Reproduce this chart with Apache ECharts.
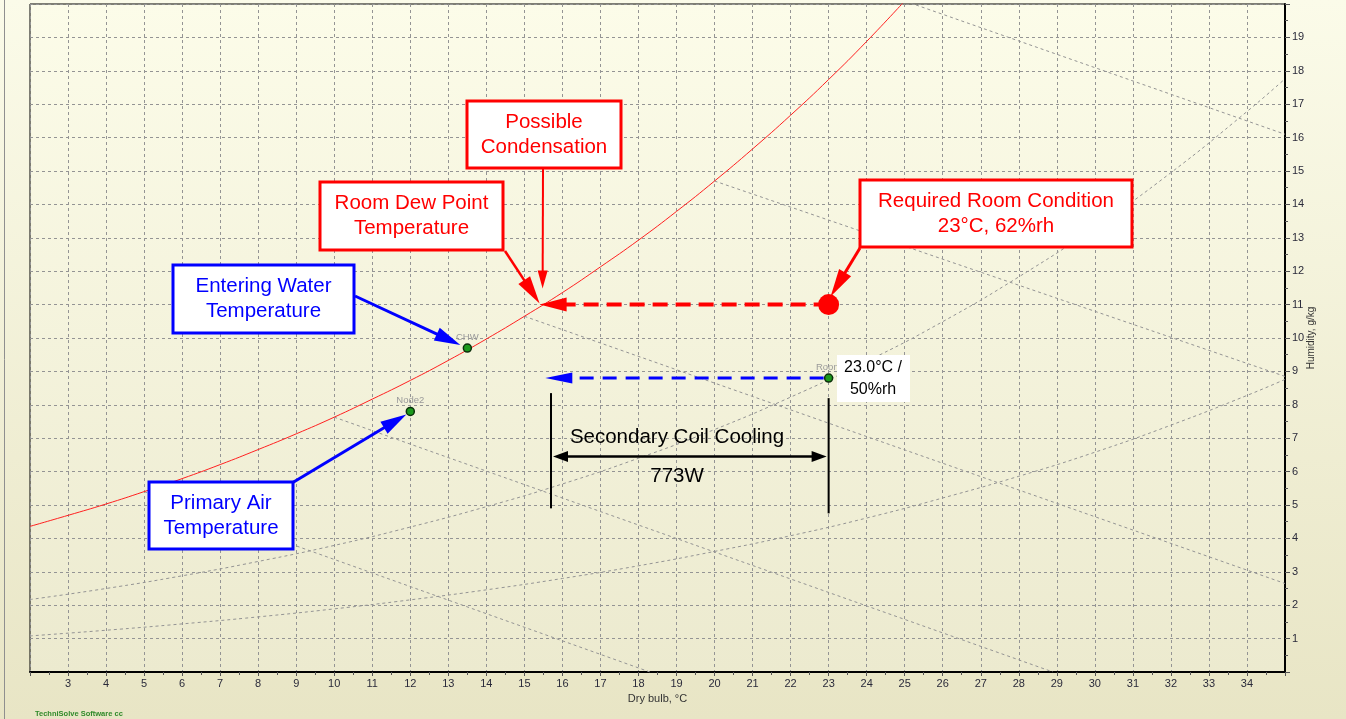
<!DOCTYPE html>
<html>
<head>
<meta charset="utf-8">
<script src="https://cdn.jsdelivr.net/npm/echarts@6/dist/echarts.min.js"></script>
<style>
  html, body { margin: 0; padding: 0; width: 1346px; height: 719px; overflow: hidden; }
  #chart { width: 1346px; height: 719px; }
</style>
</head>
<body>
<div id="chart"></div>
<script>
// Psychrometric chart: dry bulb (°C) against humidity ratio (g/kg)

// Saturation (100 %rh) line
const saturationCurve = [[2,4.36],[3,4.69],[4,5.03],[5,5.40],[6,5.79],[7,6.21],[8,6.66],[9,7.13],
  [10,7.63],[11,8.17],[12,8.73],[13,9.33],[14,9.97],[15,10.65],[16,11.36],[17,12.13],[18,12.93],
  [19,13.79],[20,14.70],[21,15.66],[22,16.67],[23,17.74],[24,18.88],[25,20.09]];

// Relative humidity lines
const rh50Curve = [[2,2.17],[4,2.50],[6,2.88],[8,3.31],[10,3.79],[12,4.34],[14,4.95],[16,5.63],
  [18,6.40],[20,7.26],[22,8.23],[24,9.30],[26,10.49],[28,11.83],[30,13.31],[32,14.95],[34,16.78],[35,17.76]];
const rh25Curve = [[2,1.08],[4,1.25],[6,1.44],[8,1.65],[10,1.89],[12,2.16],[14,2.46],[16,2.80],
  [18,3.18],[20,3.61],[22,4.08],[24,4.61],[26,5.21],[28,5.86],[30,6.58],[32,7.39],[34,8.28],[35,8.76]];

// Wet bulb lines (5, 10, 15, 20, 25 °C)
const wetBulb5  = [[5,5.40],[18.3,0]];
const wetBulb10 = [[10,7.63],[28.9,0]];
const wetBulb15 = [[15,10.65],[35,2.65]];
const wetBulb20 = [[20,14.70],[35,8.85]];
const wetBulb25 = [[25,20.09],[35,16.1]];

// Process state points
const pointNames    = ['CHW', 'Node2', 'Room'];
const pointDryBulb  = [13.5, 12.0, 23.0];
const pointHumidity = [9.7, 7.8, 8.8];

// Required room condition and its dew point
const requiredRoom = [23.0, 11.0];
const roomDewPoint = [15.4, 11.0];

// Secondary coil cooling process
const coolingEnd = [15.55, 8.8];
const coolingSpanDryBulb = [15.7, 23.0];
const coolingSpanHumidity = 6.45;
const coolingBarTop = [8.35, 8.2];
const coolingBarBottom = [4.9, 4.75];

const FONT = "'Liberation Sans', Arial, sans-serif";
const GRID_COLOR = '#949494';

const chart = echarts.init(document.getElementById('chart'), null, { renderer: 'canvas' });

const dashedGray = { color: GRID_COLOR, width: 1, type: [3, 3] };
function guideLine(name, data, smooth) {
  return {
    name, type: 'line', data, smooth: !!smooth, symbol: 'none', silent: true,
    lineStyle: dashedGray, z: 2
  };
}

const option = {
  animation: false,
  backgroundColor: {
    type: 'linear', x: 0, y: 0, x2: 0, y2: 1,
    colorStops: [{ offset: 0, color: '#fbfbe9' }, { offset: 1, color: '#e8e5c5' }]
  },
  grid: {
    left: 30, right: 61, top: 4, bottom: 47,
    show: true, borderColor: '#000', borderWidth: 1,
    backgroundColor: {
      type: 'linear', x: 0, y: 0, x2: 0, y2: 1,
      colorStops: [{ offset: 0, color: '#fcfce9' }, { offset: 1, color: '#eceacf' }]
    }
  },
  xAxis: {
    type: 'value', min: 2, max: 35, interval: 1,
    axisLine: { show: true, onZero: false, lineStyle: { color: '#000', width: 2 } },
    axisTick: { show: true, length: 4, lineStyle: { color: '#555' } },
    minorTick: { show: true, splitNumber: 2, length: 3, lineStyle: { color: '#555' } },
    axisLabel: { showMinLabel: false, showMaxLabel: false, color: '#2a2a3a', fontSize: 11, fontFamily: FONT, margin: 6 },
    splitLine: { show: true, lineStyle: dashedGray },
    name: 'Dry bulb, °C', nameLocation: 'middle', nameGap: 20,
    nameTextStyle: { color: '#333', fontSize: 11, fontFamily: FONT }
  },
  yAxis: {
    type: 'value', position: 'right', min: 0, max: 20, interval: 1,
    axisLine: { show: true, onZero: false, lineStyle: { color: '#000', width: 2 } },
    axisTick: { show: true, length: 5, lineStyle: { color: '#555' } },
    minorTick: { show: true, splitNumber: 2, length: 3, lineStyle: { color: '#555' } },
    axisLabel: { showMinLabel: false, showMaxLabel: false, color: '#2a2a3a', fontSize: 11, fontFamily: FONT, margin: 7 },
    splitLine: { show: true, lineStyle: dashedGray },
    name: 'Humidity, g/kg', nameLocation: 'middle', nameGap: 21, nameRotate: 90, nameMoveOverlap: false,
    nameTextStyle: { color: '#333', fontSize: 10, fontFamily: FONT }
  },
  series: [
    guideLine('50 %rh', rh50Curve, true),
    guideLine('25 %rh', rh25Curve, true),
    guideLine('WB 5', wetBulb5),
    guideLine('WB 10', wetBulb10),
    guideLine('WB 15', wetBulb15),
    guideLine('WB 20', wetBulb20),
    guideLine('WB 25', wetBulb25),
    {
      name: 'Saturation', type: 'line', data: saturationCurve, smooth: true, symbol: 'none',
      lineStyle: { color: '#ff2020', width: 1 }, z: 3
    },
    {
      name: 'Required room', type: 'scatter', data: [requiredRoom], symbolSize: 21,
      itemStyle: { color: '#ff0000', opacity: 1 }, z: 5
    },
    {
      name: 'States', type: 'scatter', z: 6,
      data: pointNames.map((n, i) => ({ name: n, value: [pointDryBulb[i], pointHumidity[i]] })),
      symbolSize: 8,
      itemStyle: { color: '#1c9a1c', borderColor: '#0b300b', borderWidth: 1.5, opacity: 1 },
      label: {
        show: true, position: 'top', distance: 1, formatter: '{b}',
        color: '#9a9a9a', fontSize: 9.5, fontFamily: FONT
      }
    }
  ]
};

chart.setOption(option);

function px(p) { return chart.convertToPixel({ gridIndex: 0 }, p); }

function head(tip, from, color, len, half) {
  const dx = tip[0] - from[0], dy = tip[1] - from[1];
  const L = Math.hypot(dx, dy), ux = dx / L, uy = dy / L;
  const bx = tip[0] - ux * len, by = tip[1] - uy * len;
  return {
    el: { type: 'polygon', z: 100, shape: { points: [[tip[0], tip[1]], [bx - uy * half, by + ux * half], [bx + uy * half, by - ux * half]] },
      style: { fill: color } },
    base: [bx + ux * 2, by + uy * 2]
  };
}

function arrow(from, tip, color, width, len, half, dash) {
  const h = head(tip, from, color, len, half);
  return [
    { type: 'line', z: 99, shape: { x1: from[0], y1: from[1], x2: h.base[0], y2: h.base[1] },
      style: { stroke: color, lineWidth: width, lineDash: dash || null } },
    h.el
  ];
}

function box(x, y, w, h, border, textColor, text, fontSize, borderWidth) {
  const els = [{ type: 'rect', z: 100, shape: { x, y, width: w, height: h },
    style: { fill: '#ffffff', stroke: border, lineWidth: borderWidth } }];
  els.push({ type: 'text', z: 101, style: {
    text, x: x + w / 2, y: y + h / 2, fill: textColor,
    font: fontSize + 'px ' + FONT, align: 'center', verticalAlign: 'middle', lineHeight: fontSize * 1.22
  } });
  return els;
}

function off(p, dx, dy) { return [p[0] + dx, p[1] + dy]; }

const dewPx = px(roomDewPoint);
const reqPx = px(requiredRoom);
const chwPx = px([pointDryBulb[0], pointHumidity[0]]);
const nodePx = px([pointDryBulb[1], pointHumidity[1]]);
const roomPx = px([pointDryBulb[2], pointHumidity[2]]);
const coolEndPx = px(coolingEnd);
const spanL = px([coolingSpanDryBulb[0], coolingSpanHumidity]);
const spanR = px([coolingSpanDryBulb[1], coolingSpanHumidity]);
const barLTop = px([coolingSpanDryBulb[0], coolingBarTop[0]]);
const barLBot = px([coolingSpanDryBulb[0], coolingBarBottom[0]]);
const barRTop = px([coolingSpanDryBulb[1], coolingBarTop[1]]);
const barRBot = px([coolingSpanDryBulb[1], coolingBarBottom[1]]);

const RED = '#ff0000', BLUE = '#0000ff';
let g = [];

// page frame edge
g.push({ type: 'line', z: 90, shape: { x1: 4.5, y1: 0, x2: 4.5, y2: 719 }, style: { stroke: '#8f8f8f', lineWidth: 1 } });

// required condition to dew point
g = g.concat(arrow(reqPx, dewPx, RED, 4, 27, 7, [15, 8]));
// secondary coil process
g = g.concat(arrow(off(roomPx, -5, 0), coolEndPx, BLUE, 3, 27, 5.5, [14, 9]));

// cooling span bars and dimension arrow
g.push({ type: 'line', z: 99, shape: { x1: barLTop[0], y1: barLTop[1], x2: barLBot[0], y2: barLBot[1] }, style: { stroke: '#000', lineWidth: 2 } });
g.push({ type: 'line', z: 99, shape: { x1: barRTop[0], y1: barRTop[1], x2: barRBot[0], y2: barRBot[1] }, style: { stroke: '#000', lineWidth: 2 } });
const hL = head(off(spanL, 2, 0), spanR, '#000', 15, 5.5);
const hR = head(off(spanR, -2, 0), spanL, '#000', 15, 5.5);
g.push({ type: 'line', z: 99, shape: { x1: hL.base[0], y1: hL.base[1], x2: hR.base[0], y2: hR.base[1] }, style: { stroke: '#000', lineWidth: 2.5 } });
g.push(hL.el, hR.el);
g.push({ type: 'text', z: 101, style: { text: 'Secondary Coil Cooling', x: 677, y: 437, fill: '#000',
  font: '20.5px ' + FONT, align: 'center', verticalAlign: 'middle' } });
g.push({ type: 'text', z: 101, style: { text: '773W', x: 677, y: 476, fill: '#000',
  font: '20.5px ' + FONT, align: 'center', verticalAlign: 'middle' } });

// callouts
g = g.concat(box(467, 101, 154, 67, RED, RED, 'Possible\nCondensation', 20.5, 3));
g = g.concat(arrow([543, 169], off(dewPx, 3, -16), RED, 2, 18, 5));

g = g.concat(box(320, 182, 183, 68, RED, RED, 'Room Dew Point\nTemperature', 20.5, 3));
g = g.concat(arrow([505, 251], off(dewPx, 0, -1), RED, 2.5, 28, 7));

g = g.concat(box(860, 180, 272, 67, RED, RED, 'Required Room Condition\n23°C, 62%rh', 20.5, 3));
g = g.concat(arrow([860, 248], off(reqPx, 2, -8), RED, 3, 28, 7));

g = g.concat(box(173, 265, 181, 68, BLUE, BLUE, 'Entering Water\nTemperature', 20.5, 3));
g = g.concat(arrow([355, 296], off(chwPx, -7, -3), BLUE, 3, 26, 7));

g = g.concat(box(149, 482, 144, 67, BLUE, BLUE, 'Primary Air\nTemperature', 20.5, 3));
g = g.concat(arrow([292, 483], off(nodePx, -4, 3), BLUE, 3, 26, 7));

// room state value tag
g.push({ type: 'rect', z: 100, shape: { x: 837, y: 355, width: 73, height: 47 }, style: { fill: '#ffffff' } });
g.push({ type: 'text', z: 101, style: { text: '23.0°C /\n50%rh', x: 873, y: 379, fill: '#000',
  font: '16px ' + FONT, align: 'center', verticalAlign: 'middle', lineHeight: 22 } });

// software credit
g.push({ type: 'text', z: 101, style: { text: 'TechniSolve Software cc', x: 35, y: 714, fill: '#2f8a2a',
  font: 'bold 7.5px ' + FONT, align: 'left', verticalAlign: 'middle' } });

chart.setOption({ graphic: { elements: g } });
</script>
</body>
</html>
